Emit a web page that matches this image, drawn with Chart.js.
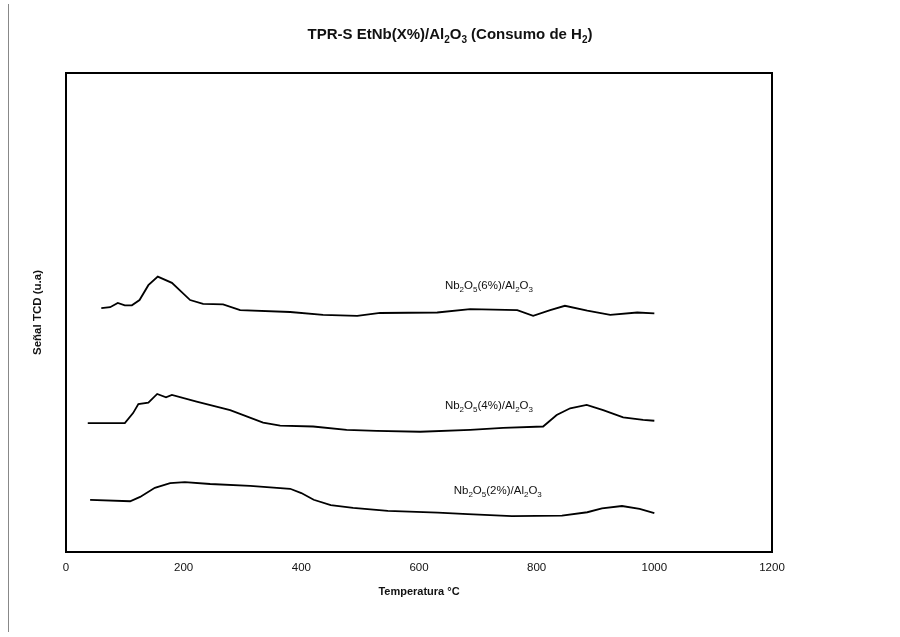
<!DOCTYPE html>
<html>
<head>
<meta charset="utf-8">
<script src="https://cdn.jsdelivr.net/npm/chart.js@4/dist/chart.umd.min.js"></script>
<style>
  html, body { margin: 0; padding: 0; background: #fff; }
  #wrap { width: 900px; height: 637px; }
</style>
</head>
<body>
<div id="wrap"><canvas id="c" width="900" height="637"></canvas></div>
<script>
// Temperatura (°C) y señal TCD (u.a.)
const temp6 = [60, 75, 88, 100, 112, 125, 140, 156, 180, 211, 233, 267, 296, 381, 437, 495, 534, 631, 687, 767, 794, 823, 848, 886, 925, 971, 1000];
const signal6 = [50.9, 51.1, 52.0, 51.5, 51.5, 52.6, 55.7, 57.5, 56.2, 52.6, 51.8, 51.7, 50.5, 50.1, 49.5, 49.3, 49.9, 50.0, 50.7, 50.5, 49.3, 50.5, 51.4, 50.4, 49.5, 50.0, 49.8];

const temp4 = [37, 100, 114, 123, 140, 155, 170, 180, 222, 279, 335, 364, 420, 477, 528, 602, 687, 743, 811, 834, 857, 885, 913, 947, 981, 1000];
const signal4 = [26.9, 26.9, 29.0, 30.9, 31.2, 33.0, 32.3, 32.8, 31.4, 29.6, 27.0, 26.4, 26.2, 25.5, 25.3, 25.1, 25.5, 25.9, 26.2, 28.6, 30.0, 30.7, 29.6, 28.1, 27.6, 27.4];

const temp2 = [41, 109, 126, 151, 177, 202, 245, 313, 381, 400, 421, 450, 488, 547, 632, 683, 758, 843, 886, 911, 945, 975, 1000];
const signal2 = [10.9, 10.6, 11.5, 13.4, 14.4, 14.6, 14.2, 13.8, 13.2, 12.3, 10.9, 9.8, 9.2, 8.6, 8.2, 7.9, 7.5, 7.6, 8.3, 9.1, 9.6, 9.0, 8.1];

// etiquetas de las curvas (posición en unidades de datos)
const labelPct = ["6%", "4%", "2%"];
const labelT = [644, 644, 659];
const labelV = [54.9, 29.9, 12.1];

const xTicks = [0, 200, 400, 600, 800, 1000, 1200];

const FONT = "'Liberation Sans', Arial, sans-serif";

function toPoints(xs, ys) {
  return xs.map((x, i) => ({ x: x, y: ys[i] }));
}

// texto con subíndices: parts = [[texto, esSub], ...]
function drawRich(ctx, parts, x, y, size, bold, align) {
  const w = bold ? "bold " : "";
  const subSize = Math.round(size * 0.68);
  let total = 0;
  parts.forEach(p => {
    ctx.font = w + (p[1] ? subSize : size) + "px " + FONT;
    total += ctx.measureText(p[0]).width;
  });
  let cx = align === "center" ? x - total / 2 : x;
  ctx.textBaseline = "alphabetic";
  ctx.textAlign = "left";
  parts.forEach(p => {
    ctx.font = w + (p[1] ? subSize : size) + "px " + FONT;
    ctx.fillText(p[0], cx, p[1] ? y + size * 0.25 : y);
    cx += ctx.measureText(p[0]).width;
  });
}

const extras = {
  id: "extras",
  afterDraw(chart) {
    const ctx = chart.ctx;
    const a = chart.chartArea;
    const xs = chart.scales.x, ys = chart.scales.y;
    ctx.save();
    // marco del área de trazado
    ctx.strokeStyle = "#000";
    ctx.lineWidth = 2;
    ctx.strokeRect(a.left, a.top, a.right - a.left, a.bottom - a.top);
    // borde izquierdo del gráfico (recortado)
    ctx.strokeStyle = "#888";
    ctx.lineWidth = 1;
    ctx.beginPath();
    ctx.moveTo(8.5, 4);
    ctx.lineTo(8.5, 632);
    ctx.stroke();

    ctx.fillStyle = "#111";
    // título
    drawRich(ctx, [["TPR-S EtNb(X%)/Al", 0], ["2", 1], ["O", 0], ["3", 1], [" (Consumo de H", 0], ["2", 1], [")", 0]],
      450, 39, 15, true, "center");
    // etiquetas de series
    labelPct.forEach((p, i) => {
      drawRich(ctx, [["Nb", 0], ["2", 1], ["O", 0], ["5", 1], ["(" + p + ")/Al", 0], ["2", 1], ["O", 0], ["3", 1]],
        xs.getPixelForValue(labelT[i]), ys.getPixelForValue(labelV[i]), 11.5, false, "left");
    });
    ctx.restore();
  }
};

const line = (data) => ({
  data: data,
  borderColor: "#000",
  borderWidth: 1.8,
  pointRadius: 0,
  tension: 0,
  fill: false
});

new Chart(document.getElementById("c"), {
  type: "line",
  data: {
    datasets: [
      line(toPoints(temp6, signal6)),
      line(toPoints(temp4, signal4)),
      line(toPoints(temp2, signal2))
    ]
  },
  options: {
    responsive: false,
    animation: false,
    layout: { padding: { left: 27, right: 128, top: 73, bottom: 34 } },
    plugins: { legend: { display: false }, tooltip: { enabled: false } },
    scales: {
      x: {
        type: "linear",
        min: 0,
        max: 1200,
        afterFit: (s) => { s.height = 51; },
        afterBuildTicks: (s) => { s.ticks = xTicks.map(v => ({ value: v })); },
        grid: { display: false, drawTicks: false },
        border: { display: false },
        ticks: { padding: 9, color: "#111", font: { family: FONT, size: 11.5 }, callback: (v) => String(v) },
        title: { display: true, text: "Temperatura °C", color: "#111", font: { family: FONT, size: 11, weight: "bold" } }
      },
      y: {
        min: 0,
        max: 100,
        afterFit: (s) => { s.width = 39; },
        grid: { display: false, drawTicks: false },
        border: { display: false },
        ticks: { display: false },
        title: { display: true, text: "Señal TCD (u.a)", color: "#111", font: { family: FONT, size: 11.5, weight: "bold" } }
      }
    }
  },
  plugins: [extras]
});
</script>
</body>
</html>
